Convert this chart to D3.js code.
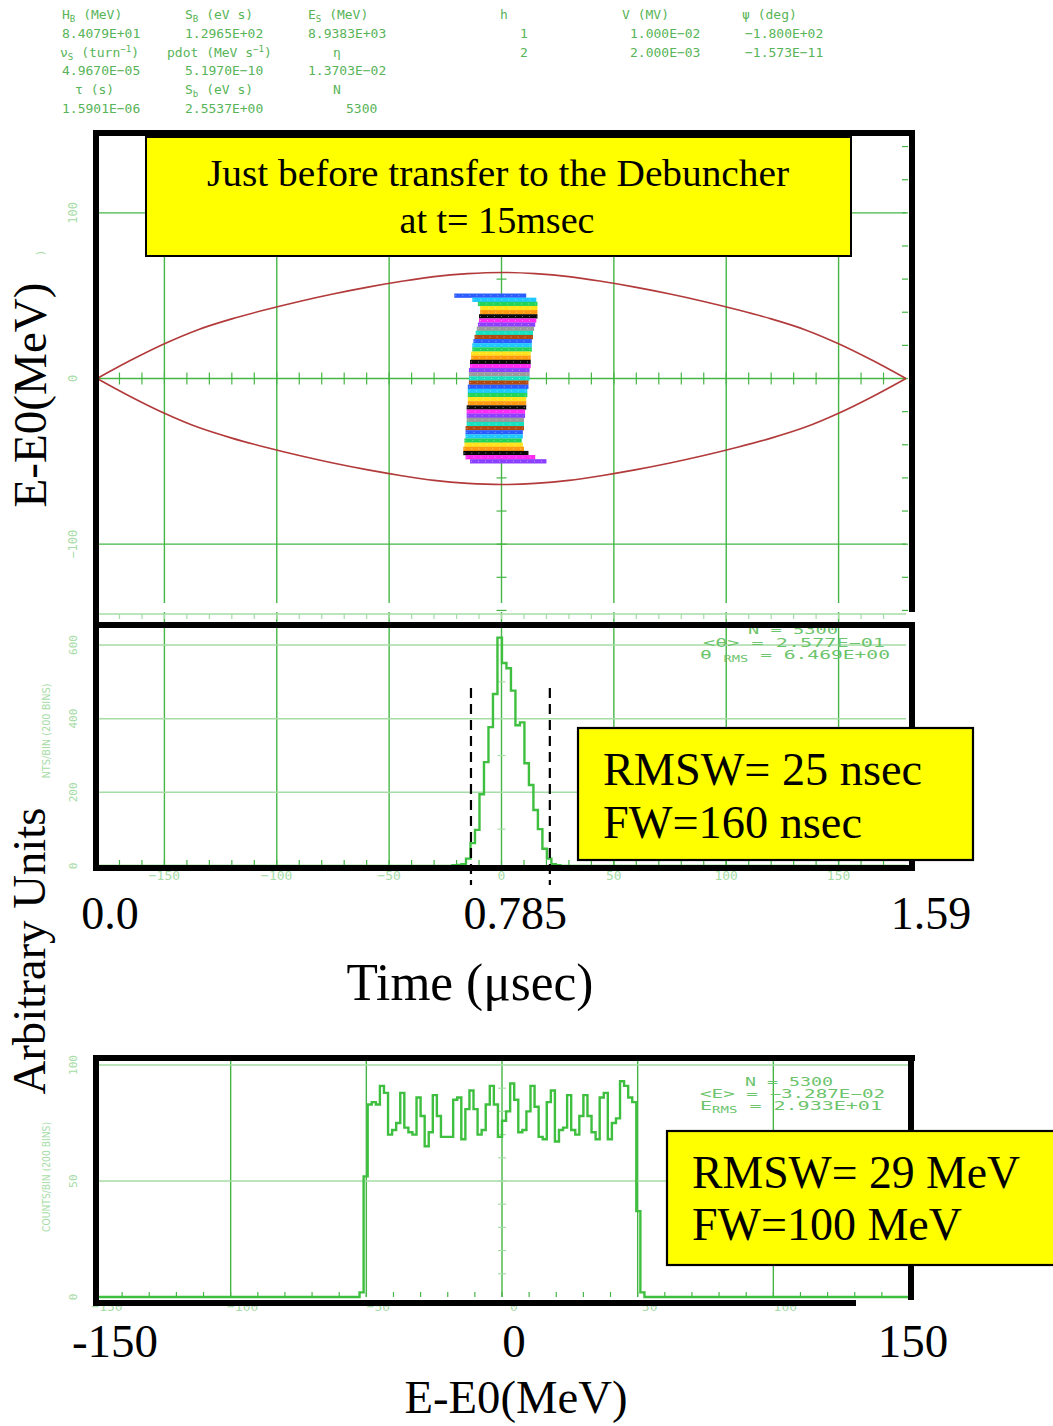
<!DOCTYPE html>
<html>
<head>
<meta charset="utf-8">
<script src="https://cdn.jsdelivr.net/npm/d3@7"></script>
<style>body{margin:0;background:#fff}</style>
</head>
<body>
<svg id="fig" width="1053" height="1426"></svg>
<script>
// separatrix (upper half, MeV)
var sepPhase = [-180,-165,-150,-135,-120,-105,-90,-75,-60,-45,-30,-15,0,15,30,45,60,75,90,105,120,135,150,165,180];
var sepE = [0,11,21,29.5,36,41.5,46.5,51,55,58.5,61.5,63.3,64,63.3,61.5,58.5,55,51,46.5,41.5,36,29.5,21,11,0];

// bunch : horizontal stripes (centre energy, left / right phase in deg)
var stripeE = [50,47.5,45,42.5,40,37.5,35,32.5,30,27.5,25,22.5,20,17.5,15,12.5,10,7.5,5,2.5,0,-2.5,-5,-7.5,-10,-12.5,-15,-17.5,-20,-22.5,-25,-27.5,-30,-32.5,-35,-37.5,-40,-42.5,-45,-47.5,-50];
var stripeLeft = [-21,-13,-10.5,-9.5,-9.5,-10,-10,-10.5,-11,-11.5,-12,-12.5,-13,-13,-13.5,-13.5,-14,-14,-14.5,-14.5,-14.5,-14.5,-15,-15,-15,-15,-15,-15.5,-15.5,-15.5,-15.5,-15.5,-16,-16,-16,-16.5,-16.5,-17,-17,-16,-14];
var stripeRight = [11,15.5,16,16,16,16,15.5,15,14.5,14,14,13.5,13.5,13.5,13,13,13,13,12.5,12.5,12.5,12,12,11.5,11.5,11,11,11,10.5,10.5,10,10,10,9.5,9.5,9,9.5,10,12,15,20];

// time (phase) histogram
var timeBinStart = -21.8;
var timeBinWidth = 2.0;
var timeCounts = [2,3,5,20,62,98,195,282,377,467,620,551,537,476,382,390,279,220,152,100,47,20,5,2];
var fwTimes = [0.735, 0.89];

// energy histogram
var energyBinStart = -52.5;
var energyBinWidth = 1.5;
var energyCounts = [2,52,83,84,83,91,88,70,72,75,88,73,71,70,86,78,65,71,87,78,69,69,69,85,86,68,81,89,81,70,72,83,91,83,69,76,80,92,85,71,72,80,91,82,69,68,84,89,67,72,73,87,72,70,78,87,78,71,68,86,88,68,75,77,93,91,86,84,37,2];

var phaseGrid = [-150,-100,-50,0,50,100,150];
var phaseTickLabels = [100,0,-100];
var h1TickLabels = [0,200,400,600];
var h1XLabels = [-150,-100,-50,0,50,100,150];
var h2TickLabels = [0,50,100];
var h2XLabels = [-150,-100,-50,0,50,100];
var timeLabels = ["0.0","0.785","1.59"];
var timeLabelValues = [0,0.785,1.59];
var energyLabels = [-150,0,150];

var svg = d3.select("#fig");
svg.append("rect").attr("width",1053).attr("height",1426).attr("fill","#fff");

var green = "#45b645", lightGreen = "#a6dca6", headGreen = "#58b458", statGreen = "#6cc46c";
var serif = "'Liberation Serif','Times New Roman',serif";
var mono = "'DejaVu Sans Mono',monospace";

// text with sub / superscripts
function rich(g, x, y, parts, size, color, len) {
    var t = g.append("text").attr("x", x).attr("y", y)
        .attr("font-family", mono).attr("font-size", size).attr("fill", color);
    var shift = 0;
    parts.forEach(function(p) {
        var s = typeof p === "string" ? [p, null] : p;
        var ts = t.append("tspan").text(s[0]);
        var want = s[1] === "sub" ? 3 : s[1] === "sup" ? -5 : 0;
        if (want !== shift) ts.attr("dy", want - shift);
        if (s[1]) ts.attr("font-size", size * 0.7);
        shift = want;
    });
    if (len) t.attr("textLength", len).attr("lengthAdjust", "spacingAndGlyphs");
    return t;
}

// ---- header block
var head = svg.append("g");
[
  [62,19,["H",["B","sub"]," (MeV)"]], [185,19,["S",["B","sub"]," (eV s)"]], [308,19,["E",["S","sub"]," (MeV)"]],
  [500,19,["h"]], [622,19,["V (MV)"]], [742,19,["ψ (deg)"]],
  [62,38,["8.4079E+01"]], [185,38,["1.2965E+02"]], [308,38,["8.9383E+03"]],
  [520,38,["1"]], [630,38,["1.000E−02"]], [745,38,["−1.800E+02"]],
  [60,57,["ν",["S","sub"]," (turn",["−1","sup"],")"]], [167,57,["pdot (MeV s",["−1","sup"],")"]], [333,57,["η"]],
  [520,57,["2"]], [630,57,["2.000E−03"]], [745,57,["−1.573E−11"]],
  [62,75,["4.9670E−05"]], [185,75,["5.1970E−10"]], [308,75,["1.3703E−02"]],
  [75,94,["τ (s)"]], [185,94,["S",["b","sub"]," (eV s)"]], [333,94,["N"]],
  [62,113,["1.5901E−06"]], [185,113,["2.5537E+00"]], [346,113,["5300"]]
].forEach(function(r) { rich(head, r[0], r[1], r[2], 13, headGreen); });

// ---- phase space plot
var phX = d3.scaleLinear().domain([-180,180]).range([97,906]);
var phY = d3.scaleLinear().domain([-150,150]).range([627,130]);
var ph = svg.append("g");

ph.selectAll(".vg").data(phaseGrid).enter().append("line")
    .attr("x1", d => phX(d)).attr("x2", d => phX(d)).attr("y1", 132).attr("y2", 603)
    .attr("stroke", green).attr("stroke-width", 1.4);
ph.selectAll(".hg").data([-100,0,100]).enter().append("line")
    .attr("x1", 97).attr("x2", 906).attr("y1", d => phY(d)).attr("y2", d => phY(d))
    .attr("stroke", green).attr("stroke-width", 1.4);
ph.selectAll(".xt").data(d3.range(-170,180,10)).enter().append("line")
    .attr("x1", d => phX(d)).attr("x2", d => phX(d)).attr("y1", phY(0)-6).attr("y2", phY(0)+6)
    .attr("stroke", green).attr("stroke-width", 1.2);
ph.selectAll(".yt").data(d3.range(-140,150,20)).enter().append("line")
    .attr("x1", phX(0)-5).attr("x2", phX(0)+5).attr("y1", d => phY(d)).attr("y2", d => phY(d))
    .attr("stroke", green).attr("stroke-width", 1.2);
ph.selectAll(".rt").data(d3.range(-140,150,20)).enter().append("line")
    .attr("x1", 902).attr("x2", 908).attr("y1", d => phY(d)).attr("y2", d => phY(d))
    .attr("stroke", green).attr("stroke-width", 1.2);

var sepLine = d3.line().x((d, i) => phX(sepPhase[i])).y(d => phY(d)).curve(d3.curveMonotoneX);
ph.append("path").datum(sepE).attr("d", sepLine)
    .attr("fill", "none").attr("stroke", "#b23a3a").attr("stroke-width", 1.6);
ph.append("path").datum(sepE.map(v => -v)).attr("d", sepLine)
    .attr("fill", "none").attr("stroke", "#b23a3a").attr("stroke-width", 1.6);

var stripeColor = d3.scaleOrdinal()
    .range(["#2a5cff","#1ec8ff","#22d45a","#ffe21a","#ff9a10","#0a0a0a","#ff2af0","#8b3fff","#9a9a9a","#17e0c0","#b04a10"]);
var halfStripe = 1.3;
ph.selectAll(".stripe").data(stripeE).enter().append("rect")
    .attr("x", (d, i) => phX(stripeLeft[i]))
    .attr("width", (d, i) => phX(stripeRight[i]) - phX(stripeLeft[i]))
    .attr("y", d => phY(d + halfStripe))
    .attr("height", d => phY(d - halfStripe) - phY(d + halfStripe))
    .attr("fill", (d, i) => stripeColor(i % 11));
ph.selectAll(".dots").data(stripeE).enter().append("line")
    .attr("x1", (d, i) => phX(stripeLeft[i]) + 1).attr("x2", (d, i) => phX(stripeRight[i]) - 1)
    .attr("y1", d => phY(d)).attr("y2", d => phY(d))
    .attr("stroke", "#fff").attr("stroke-width", 0.7).attr("stroke-dasharray", "1 6").attr("opacity", 0.7);

ph.selectAll(".yl").data(phaseTickLabels).enter().append("text")
    .attr("transform", d => `translate(77,${phY(d)}) rotate(-90)`)
    .attr("text-anchor", "middle").attr("font-family", mono).attr("font-size", 12)
    .attr("fill", lightGreen).text(d => d < 0 ? "−" + (-d) : d);
svg.append("text").attr("transform", "translate(44,253) rotate(-90)").attr("text-anchor", "middle")
    .attr("font-family", mono).attr("font-size", 11).attr("fill", lightGreen).text(")");

// title box
svg.append("rect").attr("x", 146).attr("y", 137).attr("width", 705).attr("height", 119)
    .attr("fill", "#ffff00").attr("stroke", "#000").attr("stroke-width", 2);
svg.append("text").attr("x", 498).attr("y", 186).attr("text-anchor", "middle")
    .attr("font-family", serif).attr("font-size", 38)
    .attr("textLength", 582).attr("lengthAdjust", "spacingAndGlyphs")
    .text("Just before transfer to the Debuncher");
svg.append("text").attr("x", 497).attr("y", 233).attr("text-anchor", "middle")
    .attr("font-family", serif).attr("font-size", 38)
    .attr("textLength", 195).attr("lengthAdjust", "spacingAndGlyphs")
    .text("at t= 15msec");

// ---- time histogram
var h1Y = d3.scaleLinear().domain([0,600]).range([866,645]);
var tAligned = d3.scaleLinear().domain([0,1.59]).range([97,906]);
var h1 = svg.append("g");
h1.selectAll(".vg").data(phaseGrid).enter().append("line")
    .attr("x1", d => phX(d)).attr("x2", d => phX(d)).attr("y1", 612).attr("y2", 866)
    .attr("stroke", green).attr("stroke-width", 1.4);
h1.selectAll(".hg").data([200,400,600]).enter().append("line")
    .attr("x1", 97).attr("x2", 906).attr("y1", d => h1Y(d)).attr("y2", d => h1Y(d))
    .attr("stroke", lightGreen).attr("stroke-width", 1.5);
h1.append("line").attr("x1", 97).attr("x2", 906).attr("y1", 614).attr("y2", 614)
    .attr("stroke", lightGreen).attr("stroke-width", 1.5);
h1.selectAll(".bt").data(d3.range(-170,180,10)).enter().append("line")
    .attr("x1", d => phX(d)).attr("x2", d => phX(d)).attr("y1", 860).attr("y2", 866)
    .attr("stroke", green).attr("stroke-width", 1.2);
h1.selectAll(".tt").data(d3.range(-170,180,10)).enter().append("line")
    .attr("x1", d => phX(d)).attr("x2", d => phX(d)).attr("y1", 614).attr("y2", 619)
    .attr("stroke", lightGreen).attr("stroke-width", 1.2);
h1.selectAll(".ct").data([100,300,500]).enter().append("line")
    .attr("x1", phX(0)-4).attr("x2", phX(0)+4).attr("y1", d => h1Y(d)).attr("y2", d => h1Y(d))
    .attr("stroke", lightGreen).attr("stroke-width", 1.2);

function stepPoints(start, width, counts, lo, hi) {
    var pts = [[lo, 0], [start, 0]];
    counts.forEach(function(c, i) {
        pts.push([start + i * width, c]);
        pts.push([start + (i + 1) * width, c]);
    });
    pts.push([start + counts.length * width, 0]);
    pts.push([hi, 0]);
    return pts;
}
h1.append("path").datum(stepPoints(timeBinStart, timeBinWidth, timeCounts, -180, 180))
    .attr("d", d3.line().x(d => phX(d[0])).y(d => h1Y(d[1])))
    .attr("fill", "none").attr("stroke", "#3fbf3f").attr("stroke-width", 2.4);

h1.selectAll(".yl").data(h1TickLabels).enter().append("text")
    .attr("transform", d => `translate(77,${h1Y(d)}) rotate(-90)`)
    .attr("text-anchor", "middle").attr("font-family", mono).attr("font-size", 11)
    .attr("fill", lightGreen).text(d => d);
h1.append("text").attr("transform", "translate(50,731) rotate(-90)").attr("text-anchor", "middle")
    .attr("font-family", "'DejaVu Sans Condensed','DejaVu Sans'").attr("font-size", 11)
    .attr("fill", lightGreen).attr("textLength", 95).attr("lengthAdjust", "spacingAndGlyphs")
    .text("NTS/BIN (200 BINS)");
h1.selectAll(".xl").data(h1XLabels).enter().append("text")
    .attr("x", d => phX(d)).attr("y", 880).attr("text-anchor", "middle")
    .attr("font-family", mono).attr("font-size", 13).attr("fill", lightGreen)
    .text(d => d < 0 ? "−" + (-d) : d);

rich(h1, 748, 634, ["N = 5300"], 12, statGreen, 90);
rich(h1, 703, 647, ["<θ> =  2.577E−01"], 12, statGreen, 182);
rich(h1, 700, 659, ["θ ", ["RMS", "sub"], " =  6.469E+00"], 12, statGreen, 190);

h1.selectAll(".fw").data(fwTimes).enter().append("line")
    .attr("x1", d => tAligned(d)).attr("x2", d => tAligned(d)).attr("y1", 688).attr("y2", 885)
    .attr("stroke", "#000").attr("stroke-width", 2.2).attr("stroke-dasharray", "10 6");

// ---- energy histogram
var h2X = d3.scaleLinear().domain([-150,150]).range([95,909]);
var h2Y = d3.scaleLinear().domain([0,100]).range([1297,1065]);
var h2 = svg.append("g");
h2.selectAll(".vg").data([-100,-50,0,50,100]).enter().append("line")
    .attr("x1", d => h2X(d)).attr("x2", d => h2X(d)).attr("y1", 1058).attr("y2", 1297)
    .attr("stroke", green).attr("stroke-width", 1.4);
h2.selectAll(".hg").data([50,100]).enter().append("line")
    .attr("x1", 97).attr("x2", 908).attr("y1", d => h2Y(d)).attr("y2", d => h2Y(d))
    .attr("stroke", lightGreen).attr("stroke-width", 1.5);
h2.selectAll(".bt").data(d3.range(-140,150,10)).enter().append("line")
    .attr("x1", d => h2X(d)).attr("x2", d => h2X(d)).attr("y1", 1292).attr("y2", 1297)
    .attr("stroke", green).attr("stroke-width", 1.2);
h2.selectAll(".ct").data(d3.range(10,100,10)).enter().append("line")
    .attr("x1", h2X(0)-4).attr("x2", h2X(0)+4).attr("y1", d => h2Y(d)).attr("y2", d => h2Y(d))
    .attr("stroke", lightGreen).attr("stroke-width", 1.2);
h2.append("path").datum(stepPoints(energyBinStart, energyBinWidth, energyCounts, -150, 150))
    .attr("d", d3.line().x(d => h2X(d[0])).y(d => h2Y(d[1])))
    .attr("fill", "none").attr("stroke", "#3fbf3f").attr("stroke-width", 2.4);

h2.selectAll(".yl").data(h2TickLabels).enter().append("text")
    .attr("transform", d => `translate(77,${h2Y(d)}) rotate(-90)`)
    .attr("text-anchor", "middle").attr("font-family", mono).attr("font-size", 11)
    .attr("fill", lightGreen).text(d => d);
h2.append("text").attr("transform", "translate(50,1177) rotate(-90)").attr("text-anchor", "middle")
    .attr("font-family", "'DejaVu Sans Condensed','DejaVu Sans'").attr("font-size", 11)
    .attr("fill", lightGreen).attr("textLength", 110).attr("lengthAdjust", "spacingAndGlyphs")
    .text("COUNTS/BIN (200 BINS)");
h2.selectAll(".xl").data(h2XLabels).enter().append("text")
    .attr("x", d => h2X(d) + 12).attr("y", 1311).attr("text-anchor", "middle")
    .attr("font-family", mono).attr("font-size", 13).attr("fill", lightGreen)
    .text(d => d < 0 ? "−" + (-d) : d);

rich(h2, 745, 1086, ["N = 5300"], 12, statGreen, 88);
rich(h2, 700, 1098, ["<E> = −3.287E−02"], 12, statGreen, 185);
rich(h2, 700, 1110, ["E", ["RMS", "sub"], " =  2.933E+01"], 12, statGreen, 182);

// ---- black frames
var frames = [
  [93,133,915,133],[96,130,96,871],[912,130,912,612],
  [93,625,915,625],[912,622,912,871],[93,868,915,868],
  [93,1058,915,1058],[96,1055,96,1306],[911,1055,911,1300],[93,1303,856,1303]
];
svg.selectAll(".frame").data(frames).enter().append("line")
    .attr("x1", d => d[0]).attr("y1", d => d[1]).attr("x2", d => d[2]).attr("y2", d => d[3])
    .attr("stroke", "#000").attr("stroke-width", 6);

// ---- yellow result boxes
function resultBox(x, y, w, h, lines) {
    svg.append("rect").attr("x", x).attr("y", y).attr("width", w).attr("height", h)
        .attr("fill", "#ffff00").attr("stroke", "#000").attr("stroke-width", 2.2);
    lines.forEach(function(l) {
        svg.append("text").attr("x", x + 25).attr("y", l[0])
            .attr("font-family", serif).attr("font-size", 47)
            .attr("textLength", l[1]).attr("lengthAdjust", "spacingAndGlyphs").text(l[2]);
    });
}
resultBox(578, 728, 395, 132, [[785, 319, "RMSW= 25 nsec"], [838, 259, "FW=160 nsec"]]);
resultBox(667, 1131, 390, 134, [[1188, 328, "RMSW= 29 MeV"], [1240, 270, "FW=100 MeV"]]);

// ---- overlay axis labels
var tLab = d3.scaleLinear().domain([0,1.59]).range([110,931]);
svg.selectAll(".tl").data(timeLabels).enter().append("text")
    .attr("x", (d, i) => tLab(timeLabelValues[i])).attr("y", 929).attr("text-anchor", "middle")
    .attr("font-family", serif).attr("font-size", 46).text(d => d);
svg.append("text").attr("x", 470).attr("y", 1000).attr("text-anchor", "middle")
    .attr("font-family", serif).attr("font-size", 52)
    .attr("textLength", 247).attr("lengthAdjust", "spacingAndGlyphs").text("Time (μsec)");

var eLab = d3.scaleLinear().domain([-150,150]).range([115,913]);
svg.selectAll(".el").data(energyLabels).enter().append("text")
    .attr("x", d => eLab(d)).attr("y", 1357).attr("text-anchor", "middle")
    .attr("font-family", serif).attr("font-size", 47).text(d => d);
svg.append("text").attr("x", 516).attr("y", 1413).attr("text-anchor", "middle")
    .attr("font-family", serif).attr("font-size", 47)
    .attr("textLength", 223).attr("lengthAdjust", "spacingAndGlyphs").text("E-E0(MeV)");

svg.append("text").attr("transform", "translate(46,395) rotate(-90)").attr("text-anchor", "middle")
    .attr("font-family", serif).attr("font-size", 47)
    .attr("textLength", 225).attr("lengthAdjust", "spacingAndGlyphs").text("E-E0(MeV)");
svg.append("text").attr("transform", "translate(45,951) rotate(-90)").attr("text-anchor", "middle")
    .attr("font-family", serif).attr("font-size", 47)
    .attr("textLength", 287).attr("lengthAdjust", "spacingAndGlyphs").text("Arbitrary Units");
</script>
</body>
</html>
